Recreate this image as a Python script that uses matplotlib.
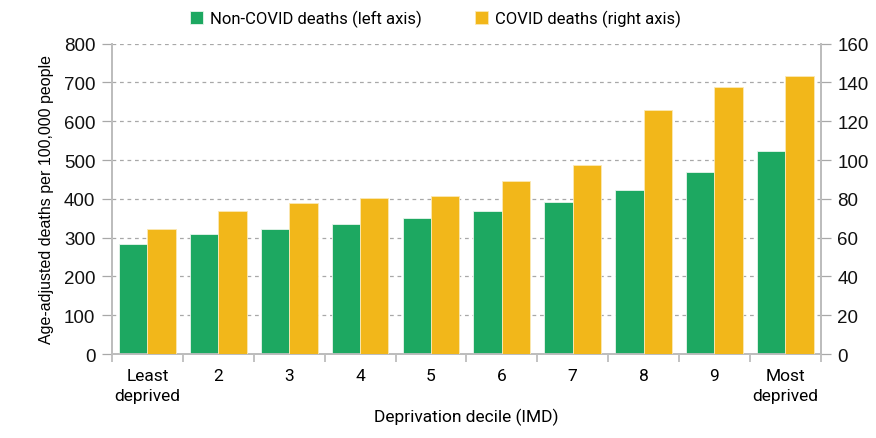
import matplotlib.pyplot as plt
import numpy as np

deciles = ["Least\ndeprived", "2", "3", "4", "5", "6", "7", "8", "9", "Most\ndeprived"]
non_covid = [283, 310, 322, 334, 350, 369, 391, 422, 468, 524]
covid = [64.6, 73.8, 77.7, 80.4, 81.5, 89.0, 97.6, 125.6, 137.6, 143.3]
left_ticks = [0, 100, 200, 300, 400, 500, 600, 700, 800]
right_ticks = [0, 20, 40, 60, 80, 100, 120, 140, 160]

green = "#1da861"
yellow = "#f2b71a"
grey = "#bdbdbd"
narrow = ["Liberation Sans Narrow", "Roboto", "DejaVu Sans"]

plt.rcParams['font.family'] = ["Liberation Sans", "DejaVu Sans"]

fig = plt.figure(figsize=(8.76, 4.39), dpi=100)
ax = fig.add_axes([0.1279, 0.1913, 0.809, 0.707])
ax2 = ax.twinx()

x = np.arange(len(deciles))
w = 0.4
b1 = ax.bar(x - w / 2, non_covid, w, color=green, edgecolor="#e8f5ec", linewidth=0.6,
            label="Non-COVID deaths (left axis)", zorder=3)
b2 = ax2.bar(x + w / 2, covid, w, color=yellow, edgecolor="#fbe9b5", linewidth=0.6,
             label="COVID deaths (right axis)", zorder=3)

ax.set_xlim(-0.5, len(deciles) - 0.5)
ax.set_ylim(0, 800)
ax2.set_ylim(0, 160)
ax.set_yticks(left_ticks)
ax2.set_yticks(right_ticks)

ax.grid(axis="y", linestyle=(0, (3, 3)), color="#a8a8a8", linewidth=0.9, zorder=0)
ax.set_axisbelow(True)

for a in (ax, ax2):
    for s in a.spines.values():
        s.set_color(grey)
        s.set_linewidth(1.3)
    a.spines["top"].set_visible(False)

ax.tick_params(axis="y", length=7, color="#a8a8a8", width=0.9, labelsize=13.5, pad=5,
               labelcolor="#111111")
ax2.tick_params(axis="y", length=7, color="#a8a8a8", width=0.9, labelsize=13.5, pad=5,
                labelcolor="#111111")

ax.set_xticks(x)
ax.set_xticklabels(deciles, family=narrow, fontsize=12.5, linespacing=1.45)
ax.tick_params(axis="x", which="major", length=0, pad=10)
ax.set_xticks(np.arange(-0.5, len(deciles)), minor=True)
ax.tick_params(axis="x", which="minor", length=6, color=grey, width=1.3)

ax.set_xlabel("Deprivation decile (IMD)", family=narrow, fontsize=12.5, labelpad=3)
ax.set_ylabel("Age-adjusted deaths per 100,000 people", fontsize=11.5, labelpad=7)

fig.legend(handles=[b1, b2], loc="upper center", bbox_to_anchor=(0.497, 1.01), ncol=2,
           frameon=False, prop={"family": narrow, "size": 12}, handlelength=0.8,
           handleheight=0.8, handletextpad=0.4, columnspacing=3.2)

fig.savefig("out.png", dpi=100)
